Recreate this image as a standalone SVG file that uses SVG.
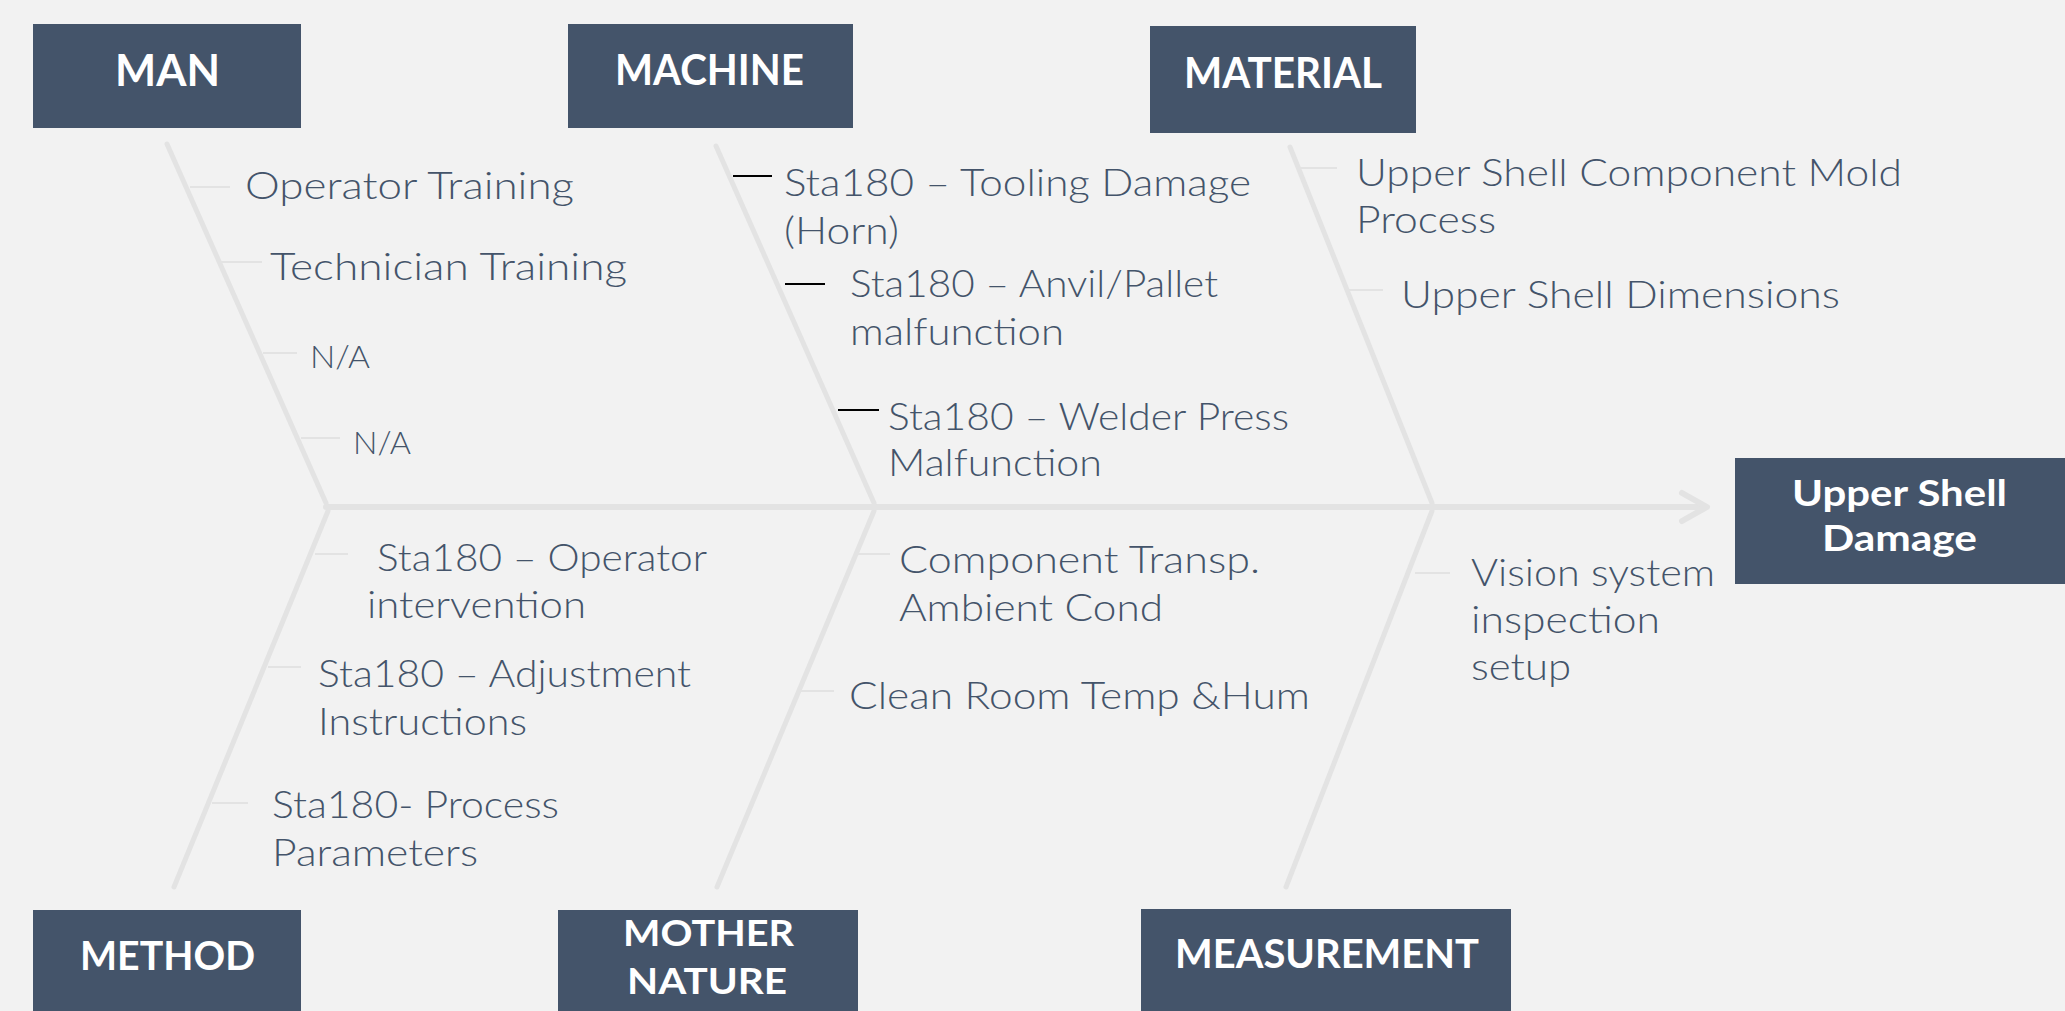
<svg xmlns="http://www.w3.org/2000/svg" width="2065" height="1011" viewBox="0 0 2065 1011">
  <style>
    .bg { fill: #f2f2f2; }
    .box { fill: #44546a; }
    .head { font-family: Lato, "Liberation Sans", sans-serif; font-weight: 700; fill: #ffffff; }
    .cause { font-family: Lato, "Liberation Sans", sans-serif; font-weight: 300; font-size: 38px; fill: #44546a; }
    .small { font-size: 31px; }
    .bone { stroke: #e3e3e3; stroke-width: 5; stroke-linecap: round; fill: none; }
    .spine { stroke: #e3e3e3; stroke-width: 6; stroke-linecap: round; stroke-linejoin: round; fill: none; }
    .twig { stroke: #e3e3e3; stroke-width: 2; fill: none; }
    .tick { stroke: #000000; stroke-width: 2; fill: none; }
  </style>

  <rect class="bg" x="0" y="0" width="2065" height="1011"/>

  <!-- skeleton: main spine, category bones and cause twigs -->
  <g id="connectors">
    <path class="spine" d="M326,507 H1704"/>
    <path class="spine" d="M1682,493 L1707,507 L1682,521"/>
    <line class="bone" x1="167" y1="144" x2="326" y2="503"/>
    <line class="bone" x1="716" y1="146" x2="874" y2="503"/>
    <line class="bone" x1="1290" y1="147" x2="1432" y2="503"/>
    <line class="bone" x1="328" y1="511" x2="174" y2="887"/>
    <line class="bone" x1="874" y1="511" x2="717" y2="887"/>
    <line class="bone" x1="1432" y1="511" x2="1286" y2="887"/>

    <line class="twig" x1="190" y1="187" x2="230" y2="187"/>
    <line class="twig" x1="221" y1="262" x2="262" y2="262"/>
    <line class="twig" x1="263" y1="353" x2="297" y2="353"/>
    <line class="twig" x1="301" y1="438" x2="340" y2="438"/>
    <line class="tick" x1="733" y1="176" x2="772" y2="176"/>
    <line class="tick" x1="785" y1="284" x2="825" y2="284"/>
    <line class="tick" x1="838" y1="410" x2="879" y2="410"/>
    <line class="twig" x1="1300" y1="168" x2="1337" y2="168"/>
    <line class="twig" x1="1347" y1="290" x2="1383" y2="290"/>
    <line class="twig" x1="315" y1="554" x2="348" y2="554"/>
    <line class="twig" x1="268" y1="667" x2="301" y2="667"/>
    <line class="twig" x1="212" y1="803" x2="248" y2="803"/>
    <line class="twig" x1="856" y1="554" x2="890" y2="554"/>
    <line class="twig" x1="801" y1="691" x2="834" y2="691"/>
    <line class="twig" x1="1415" y1="573" x2="1450" y2="573"/>
  </g>

  <!-- category headers -->
  <g id="man">
    <rect class="box" x="33" y="24" width="268" height="104"/>
    <text class="head" x="115" y="86" font-size="43" textLength="105" lengthAdjust="spacingAndGlyphs">MAN</text>
  </g>
  <g id="machine">
    <rect class="box" x="568" y="24" width="285" height="104"/>
    <text class="head" x="615" y="85" font-size="42" textLength="189" lengthAdjust="spacingAndGlyphs">MACHINE</text>
  </g>
  <g id="material">
    <rect class="box" x="1150" y="26" width="266" height="107"/>
    <text class="head" x="1184" y="88" font-size="42" textLength="198" lengthAdjust="spacingAndGlyphs">MATERIAL</text>
  </g>
  <g id="method">
    <rect class="box" x="33" y="910" width="268" height="101"/>
    <text class="head" x="80" y="970" font-size="40" textLength="175" lengthAdjust="spacingAndGlyphs">METHOD</text>
  </g>
  <g id="mother-nature">
    <rect class="box" x="558" y="910" width="300" height="101"/>
    <text class="head" x="623" y="946" font-size="37" textLength="171" lengthAdjust="spacingAndGlyphs">MOTHER</text>
    <text class="head" x="627" y="994" font-size="37" textLength="160" lengthAdjust="spacingAndGlyphs">NATURE</text>
  </g>
  <g id="measurement">
    <rect class="box" x="1141" y="909" width="370" height="102"/>
    <text class="head" x="1175" y="968" font-size="40" textLength="304" lengthAdjust="spacingAndGlyphs">MEASUREMENT</text>
  </g>
  <g id="effect">
    <rect class="box" x="1735" y="458" width="330" height="126"/>
    <text class="head" x="1792" y="506" font-size="37" textLength="215" lengthAdjust="spacingAndGlyphs">Upper Shell</text>
    <text class="head" x="1822" y="551" font-size="37" textLength="155" lengthAdjust="spacingAndGlyphs">Damage</text>
  </g>

  <!-- causes -->
  <g id="causes-man">
    <text class="cause" x="245" y="199" textLength="329" lengthAdjust="spacingAndGlyphs">Operator Training</text>
    <text class="cause" x="270" y="280" textLength="357" lengthAdjust="spacingAndGlyphs">Technician Training</text>
    <text class="cause small" x="310" y="368" textLength="60" lengthAdjust="spacingAndGlyphs">N/A</text>
    <text class="cause small" x="353" y="454" textLength="58" lengthAdjust="spacingAndGlyphs">N/A</text>
  </g>
  <g id="causes-machine">
    <text class="cause" x="784" y="196" textLength="467" lengthAdjust="spacingAndGlyphs">Sta180 – Tooling Damage</text>
    <text class="cause" x="784" y="244" textLength="115" lengthAdjust="spacingAndGlyphs">(Horn)</text>
    <text class="cause" x="850" y="297" textLength="368" lengthAdjust="spacingAndGlyphs">Sta180 – Anvil/Pallet</text>
    <text class="cause" x="850" y="345" textLength="214" lengthAdjust="spacingAndGlyphs">malfunction</text>
    <text class="cause" x="888" y="430" textLength="401" lengthAdjust="spacingAndGlyphs">Sta180 – Welder Press</text>
    <text class="cause" x="888" y="476" textLength="214" lengthAdjust="spacingAndGlyphs">Malfunction</text>
  </g>
  <g id="causes-material">
    <text class="cause" x="1356" y="186" textLength="546" lengthAdjust="spacingAndGlyphs">Upper Shell Component Mold</text>
    <text class="cause" x="1356" y="233" textLength="140" lengthAdjust="spacingAndGlyphs">Process</text>
    <text class="cause" x="1401" y="308" textLength="439" lengthAdjust="spacingAndGlyphs">Upper Shell Dimensions</text>
  </g>
  <g id="causes-method">
    <text class="cause" x="377" y="571" textLength="330" lengthAdjust="spacingAndGlyphs">Sta180 – Operator</text>
    <text class="cause" x="367" y="618" textLength="219" lengthAdjust="spacingAndGlyphs">intervention</text>
    <text class="cause" x="318" y="687" textLength="373" lengthAdjust="spacingAndGlyphs">Sta180 – Adjustment</text>
    <text class="cause" x="318" y="735" textLength="209" lengthAdjust="spacingAndGlyphs">Instructions</text>
    <text class="cause" x="272" y="818" textLength="287" lengthAdjust="spacingAndGlyphs">Sta180- Process</text>
    <text class="cause" x="272" y="866" textLength="206" lengthAdjust="spacingAndGlyphs">Parameters</text>
  </g>
  <g id="causes-mother-nature">
    <text class="cause" x="899" y="573" textLength="361" lengthAdjust="spacingAndGlyphs">Component Transp.</text>
    <text class="cause" x="899" y="621" textLength="264" lengthAdjust="spacingAndGlyphs">Ambient Cond</text>
    <text class="cause" x="849" y="709" textLength="461" lengthAdjust="spacingAndGlyphs">Clean Room Temp &amp;Hum</text>
  </g>
  <g id="causes-measurement">
    <text class="cause" x="1471" y="586" textLength="244" lengthAdjust="spacingAndGlyphs">Vision system</text>
    <text class="cause" x="1471" y="633" textLength="189" lengthAdjust="spacingAndGlyphs">inspection</text>
    <text class="cause" x="1471" y="680" textLength="100" lengthAdjust="spacingAndGlyphs">setup</text>
  </g>
</svg>
